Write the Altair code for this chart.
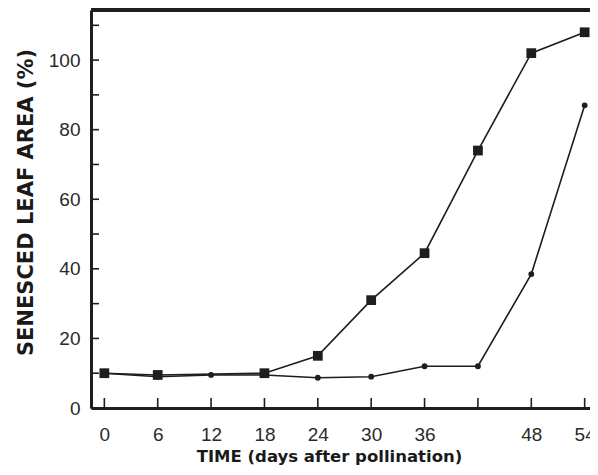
import altair as alt
import pandas as pd

# --- data ---
days_sq = [0, 6, 18, 24, 30, 36, 42, 48, 54]
senesced_sq = [10, 9.5, 10, 15, 31, 44.5, 74, 102, 108]

days_ci = [0, 6, 12, 18, 24, 30, 36, 42, 48, 54]
senesced_ci = [10, 9, 9.5, 9.5, 8.7, 9, 12, 12, 38.5, 87]

x_tick_values = [0, 6, 12, 18, 24, 30, 36, 42, 48, 54]
x_label_values = [0, 6, 12, 18, 24, 30, 36, 48, 54]
y_tick_values = [0, 10, 20, 30, 40, 50, 60, 70, 80, 90, 100, 110]
y_label_values = [0, 20, 40, 60, 80, 100]

df_sq = pd.DataFrame({"day": days_sq, "pct": senesced_sq})
df_ci = pd.DataFrame({"day": days_ci, "pct": senesced_ci})
df_xt = pd.DataFrame({"day": x_tick_values})
df_yt = pd.DataFrame({"pct": y_tick_values})

W, H = 499, 398
INK = "#1e1e1e"
FONT = "Liberation Sans"
TFONT = "DejaVu Sans"

xs = alt.Scale(domain=[-1.5, 54.6], nice=False, zero=False)
ys = alt.Scale(domain=[0, 114.4], nice=False, zero=False)

x_axis = alt.Axis(
    values=x_label_values, ticks=False, tickSize=0, grid=False,
    domainColor=INK, domainWidth=3,
    labelFont=FONT, labelFontSize=19, labelColor="#2a2a2a", labelPadding=17,
    title="TIME (days after pollination)", titleFont=TFONT, titleFontSize=16.5,
    titleFontWeight="bold", titleColor="#1a1a1a", titlePadding=4,
    titleX=238, titleAnchor="start", titleAlign="center", titleLimit=400,
)
y_axis = alt.Axis(
    values=y_label_values, ticks=False, tickSize=0, grid=False,
    domainColor=INK, domainWidth=3,
    labelFont=FONT, labelFontSize=19, labelColor="#2a2a2a", labelPadding=11,
    title="SENESCED LEAF AREA (%)", titleFont=TFONT, titleFontSize=21,
    titleFontWeight="bold", titleColor="#1a1a1a", titlePadding=12,
    titleY=192, titleAnchor="start", titleAlign="center", titleLimit=400,
)

sq_line = alt.Chart(df_sq).mark_line(color=INK, strokeWidth=1.6).encode(
    x=alt.X("day:Q", scale=xs, axis=x_axis),
    y=alt.Y("pct:Q", scale=ys, axis=y_axis),
)
sq_pts = alt.Chart(df_sq).mark_square(color=INK, size=95, opacity=1).encode(
    x=alt.X("day:Q", scale=xs), y=alt.Y("pct:Q", scale=ys)
)
ci_line = alt.Chart(df_ci).mark_line(color=INK, strokeWidth=1.6).encode(
    x=alt.X("day:Q", scale=xs), y=alt.Y("pct:Q", scale=ys)
)
ci_pts = alt.Chart(df_ci).mark_circle(color=INK, size=34, opacity=1).encode(
    x=alt.X("day:Q", scale=xs), y=alt.Y("pct:Q", scale=ys)
)

x_ticks = alt.Chart(df_xt).mark_rule(color=INK, strokeWidth=1.6).encode(
    x=alt.X("day:Q", scale=xs), y=alt.value(H), y2=alt.value(H - 10)
)
y_ticks = alt.Chart(df_yt).mark_rule(color=INK, strokeWidth=1.6).encode(
    y=alt.Y("pct:Q", scale=ys), x=alt.value(0), x2=alt.value(8)
)
top_border = alt.Chart(df_xt).mark_rule(color=INK, strokeWidth=3).encode(
    x=alt.value(0), x2=alt.value(W), y=alt.value(0)
)

chart = alt.layer(
    top_border, x_ticks, y_ticks, ci_line, sq_line, ci_pts, sq_pts
).properties(
    width=W, height=H,
    autosize=alt.AutoSizeParams(type="none"),
    padding={"left": 83, "top": 2, "right": 0, "bottom": 59},
).configure_view(stroke=None).configure(background="white")

chart.save("out.html", embed_options={"renderer": "svg", "actions": False})
